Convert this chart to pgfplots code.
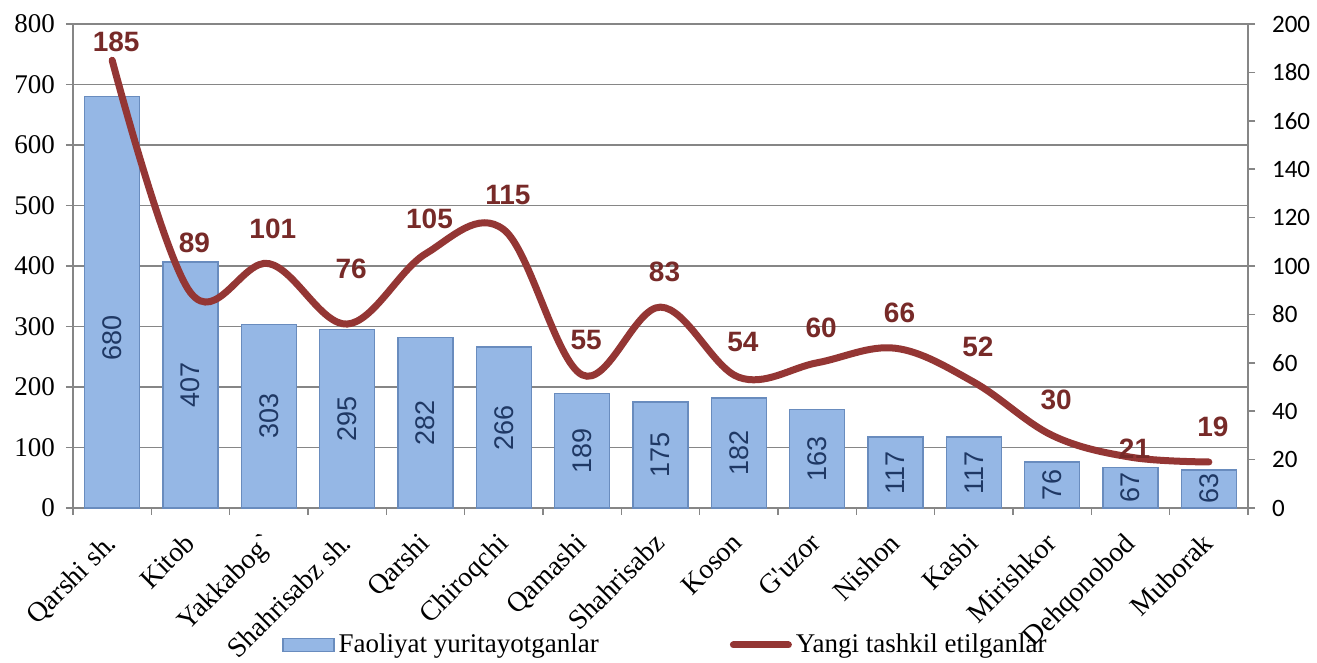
\documentclass[border=0pt]{standalone}
\usepackage{fontspec}
\setmainfont{Liberation Serif}
\newfontfamily\arialf{Liberation Sans}
\newfontfamily\calibrif{Carlito}
\usepackage{pgfplots}
\usepackage{pgfplotstable}
\pgfplotsset{compat=1.18}

\definecolor{barfill}{RGB}{149,183,229}
\definecolor{baredge}{RGB}{105,140,190}
\definecolor{linered}{RGB}{148,54,52}
\definecolor{lblred}{RGB}{119,42,40}
\definecolor{lblblue}{RGB}{31,56,100}
\definecolor{gridgray}{RGB}{134,134,134}

\pgfplotsset{
  linelegend/.style={legend image code/.code={\draw[##1, line cap=round] (0pt,0pt) -- (27.5pt,0pt);}},
  barlegend/.style={legend image code/.code={\draw[fill=barfill, draw=baredge, line width=0.8pt]
    (0pt,-3.25pt) rectangle (25.5pt,3.25pt);}},
}

% faoliyat yuritayotganlar (left axis); lpos = height of the value label
\pgfplotstableread{
x f lpos
0 680 281
1 407 203.5
2 303 151.5
3 295 147.5
4 282 141
5 266 133
6 189 94.5
7 175 87.5
8 182 91
9 163 81.5
10 117 58.5
11 117 58.5
12 76 38
13 67 33.5
14 63 31.5
}\faoltab

% yangi tashkil etilganlar (right axis); off = label offset in pt
\pgfplotstableread{
x y off
0 185 9
1 89 25
2 101 17.5
3 76 27.5
4 105 17.5
5 115 17.5
6 55 17.5
7 83 17.5
8 54 17.5
9 60 17.5
10 66 17.5
11 52 17.5
12 30 17.5
13 21 4
14 19 17.5
}\yangitab

\newcommand{\tnr}{\fontsize{13.5}{15}\selectfont}

\begin{document}
\begin{tikzpicture}
\begin{axis}[
  width=587.5pt, height=242pt, scale only axis,
  /pgf/number format/assume math mode=true,
  xmin=-0.5, xmax=14.5, ymin=0, ymax=800,
  ytick={0,100,...,800},
  xtick={0,...,14},
  xticklabels={Qarshi sh., Kitob, Yakkabog\textasciigrave, Shahrisabz sh., Qarshi, Chiroqchi,
    Qamashi, Shahrisabz, Koson, G\textquotesingle uzor, Nishon, Kasbi, Mirishkor, Dehqonobod, Muborak},
  xticklabel style={xshift=-4pt, yshift=-6.5pt, rotate=45, anchor=north east,
    font=\fontsize{14}{16}\selectfont, inner sep=1pt},
  minor xtick={-0.5,0.5,...,14.5},
  major x tick style={draw=none},
  axis x line*=bottom, axis y line*=left,
  axis line style={-, gridgray, line width=0.8pt},
  ymajorgrids, grid style={gridgray, line width=0.8pt},
  tick align=outside, tick style={gridgray, line width=0.8pt},
  major tick length=3.5pt, minor tick length=3.5pt,
  yticklabel style={font=\tnr, xshift=-2pt},
  clip=false,
]
\addplot[ybar, bar width=27.5pt, fill=barfill, draw=baredge, line width=0.8pt]
  table[x=x, y=f] {\faoltab};
\addplot[draw=none, mark=none, nodes near coords, point meta=explicit,
  every node near coord/.append style={rotate=90, anchor=center,
    font=\arialf\fontsize{13.5}{15}\selectfont, text=lblblue}]
  table[x=x, y=lpos, meta=f] {\faoltab};
% page margins as in the reference
\path (rel axis cs:0,0) ++(-36.5pt,-74.5pt) coordinate (bbA);
\path (rel axis cs:1,1) ++(34.5pt,12pt) coordinate (bbB);
\end{axis}

\begin{axis}[
  width=587.5pt, height=242pt, scale only axis,
  /pgf/number format/assume math mode=true,
  xmin=-0.5, xmax=14.5, ymin=0, ymax=200,
  ytick={0,20,...,200},
  axis y line*=right, axis x line=none,
  axis line style={-, gridgray, line width=0.8pt},
  tick align=outside, tick style={gridgray, line width=0.8pt},
  major tick length=3.5pt,
  yticklabel style={font=\calibrif\fontsize{12.5}{14}\selectfont, xshift=5pt},
  clip=false,
  legend style={at={(0.505,-0.283)}, anchor=center, legend columns=2, draw=none, fill=none,
    font=\tnr, inner sep=0pt,
    /tikz/every even column/.append style={column sep=63.5pt}},
]
\addlegendimage{barlegend}
\addlegendentry{Faoliyat yuritayotganlar}
\addplot[linered, line width=3.5pt, line cap=round, smooth, tension=0.6, mark=none,
  nodes near coords, point meta=explicit,
  visualization depends on={\thisrow{off} \as \off},
  every node near coord/.append style={anchor=center, yshift=\off pt, xshift=2pt,
    font=\arialf\bfseries\fontsize{14}{16}\selectfont, text=lblred},
  linelegend]
  table[x=x, y=y, meta=y] {\yangitab};
\addlegendentry{Yangi tashkil etilganlar}
\end{axis}
\path (bbA) (bbB);
\end{tikzpicture}
\end{document}
